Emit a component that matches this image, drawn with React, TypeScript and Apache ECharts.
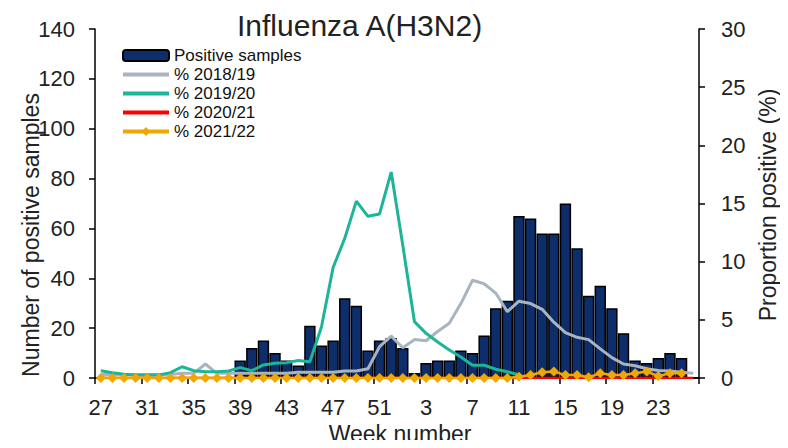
import React, { useEffect, useRef } from "react";
import * as echarts from "echarts";

const weeks = [
  "27", "28", "29", "30", "31", "32", "33", "34", "35", "36", "37", "38", "39",
  "40", "41", "42", "43", "44", "45", "46", "47", "48", "49", "50", "51", "52",
  "1", "2", "3", "4", "5", "6", "7", "8", "9", "10", "11", "12", "13",
  "14", "15", "16", "17", "18", "19", "20", "21", "22", "23", "24", "25", "26",
];

const positiveSamples = [
  0, 0, 0, 0, 0, 0, 0, 0, 0, 0, 0, 0, 7,
  12, 15, 10, 7, 5, 21, 13, 15, 32, 29, 11, 15, 16,
  12, 2, 6, 7, 7, 11, 10, 17, 28, 31, 65, 64, 58,
  58, 70, 52, 33, 37, 28, 18, 7, 6, 8, 10, 8, 0,
];

const pct201819 = [
  0.3, 0.3, 0.3, 0.3, 0.3, 0.3, 0.3, 0.4, 0.4, 1.2, 0.4, 0.4, 0.4,
  0.4, 0.4, 0.4, 0.4, 0.5, 0.5, 0.5, 0.5, 0.6, 0.6, 0.8, 2.7, 3.6,
  2.6, 3.3, 3.2, 4.0, 4.7, 6.4, 8.4, 8.1, 7.3, 5.7, 6.6, 6.4, 5.9,
  4.8, 3.9, 3.5, 3.3, 2.5, 1.75, 1.2, 1.05, 0.8, 0.65, 0.6, 0.5, 0.4,
];

const pct201920 = [
  0.63, 0.46, 0.32, 0.26, 0.26, 0.26, 0.46, 0.97, 0.63, 0.54, 0.54, 0.6, 0.89,
  0.63, 1.12, 1.26, 1.32, 1.5, 1.4, 4.4, 9.5, 12.0, 15.2, 13.9, 14.1, 17.7,
  11.4, 4.85, 3.84, 3.1, 2.4, 1.8, 1.1, 1.1, 0.75, 0.54, 0.26, null, null,
  null, null, null, null, null, null, null, null, null, null, null, null, null,
];

const pct202021 = [
  0, 0, 0, 0, 0, 0, 0, 0, 0, 0, 0, 0, 0,
  0, 0, 0, 0, 0, 0, 0, 0, 0, 0, 0, 0, 0,
  0, 0, 0, 0, 0, 0, 0, 0, 0, 0, 0, 0, 0,
  0, 0, 0, 0, 0, 0, 0, 0, 0, 0, 0, 0, 0,
];

const pct202122 = [
  0, 0, 0, 0, 0, 0, 0, 0, 0, 0, 0, 0, 0,
  0, 0, 0, 0, 0, 0, 0, 0, 0, 0, 0, 0, 0,
  0, 0, 0, 0, 0, 0, 0, 0, 0, 0, 0.1, 0.26, 0.5,
  0.55, 0.26, 0.26, 0.06, 0.4, 0.26, 0.26, 0.4, 0.55, 0.17, 0.4, 0.4, null,
];

const leftTicks = { min: 0, max: 140, interval: 20 };
const rightTicks = { min: 0, max: 30, interval: 5 };

const FONT = "'Liberation Sans', Arial, sans-serif";

const hiddenSymbol = { color: "rgba(0,0,0,0)", borderWidth: 0, opacity: 0 };

export default function App() {
  const ref = useRef<HTMLDivElement>(null);

  useEffect(() => {
    if (!ref.current) return;
    const chart = echarts.init(ref.current, undefined, { renderer: "svg" });
    const axisLine = { show: true, lineStyle: { color: "#000", width: 1.5 } };
    const axisTick = { show: true, length: 6, inside: false, lineStyle: { color: "#000", width: 1.5 } };
    chart.setOption({
      animation: false,
      backgroundColor: "#fff",
      textStyle: { fontFamily: FONT },
      title: {
        text: "Influenza A(H3N2)",
        left: 232,
        top: 5,
        textStyle: { fontSize: 30, fontWeight: "normal", color: "#222", fontFamily: FONT },
      },
      legend: {
        orient: "vertical",
        left: 121,
        top: 47,
        padding: 0,
        itemWidth: 46,
        itemHeight: 11,
        itemGap: 2,
        textStyle: { fontSize: 17, color: "#111", fontFamily: FONT },
        data: [
          { name: "Positive samples" },
          { name: "% 2018/19", itemStyle: hiddenSymbol, lineStyle: { width: 4 } },
          { name: "% 2019/20", itemStyle: hiddenSymbol, lineStyle: { width: 4 } },
          { name: "% 2020/21", itemStyle: hiddenSymbol, lineStyle: { width: 4 } },
          { name: "% 2021/22", lineStyle: { width: 4 } },
        ],
      },
      grid: { left: 95, right: 89, top: 29, bottom: 70, containLabel: false },
      xAxis: {
        type: "category",
        data: weeks,
        boundaryGap: true,
        axisLine,
        axisTick: { ...axisTick, interval: 3 },
        axisLabel: { interval: 3, fontSize: 22, color: "#222", margin: 18, fontFamily: FONT },
        splitLine: { show: false },
      },
      yAxis: [
        {
          type: "value",
          position: "left",
          ...leftTicks,
          axisLine,
          axisTick,
          axisLabel: { fontSize: 22, color: "#222", margin: 20, fontFamily: FONT },
          splitLine: { show: false },
        },
        {
          type: "value",
          position: "right",
          ...rightTicks,
          axisLine,
          axisTick,
          axisLabel: { fontSize: 22, color: "#222", margin: 22, fontFamily: FONT },
          splitLine: { show: false },
        },
      ],
      graphic: [
        {
          type: "text",
          x: 31,
          y: 235,
          rotation: Math.PI / 2,
          style: {
            text: "Number of positive samples",
            fontSize: 23,
            fontFamily: FONT,
            fill: "#222",
            textAlign: "center",
            textVerticalAlign: "middle",
            align: "center",
            verticalAlign: "middle",
          },
        },
        {
          type: "text",
          x: 768,
          y: 205,
          rotation: Math.PI / 2,
          style: {
            text: "Proportion positive (%)",
            fontSize: 23,
            fontFamily: FONT,
            fill: "#222",
            textAlign: "center",
            textVerticalAlign: "middle",
            align: "center",
            verticalAlign: "middle",
          },
        },
        {
          type: "text",
          x: 400,
          y: 434,
          style: {
            text: "Week number",
            fontSize: 23,
            fontFamily: FONT,
            fill: "#222",
            textAlign: "center",
            textVerticalAlign: "middle",
            align: "center",
            verticalAlign: "middle",
          },
        },
      ],
      series: [
        {
          name: "Positive samples",
          type: "bar",
          yAxisIndex: 0,
          data: positiveSamples,
          barCategoryGap: "2%",
          itemStyle: { color: "#0e2d6b", borderColor: "#000", borderWidth: 1.5 },
        },
        {
          name: "% 2018/19",
          type: "line",
          yAxisIndex: 1,
          data: pct201819,
          symbol: "none",
          lineStyle: { color: "#a9b4c1", width: 3 },
          itemStyle: { color: "#a9b4c1" },
        },
        {
          name: "% 2019/20",
          type: "line",
          yAxisIndex: 1,
          data: pct201920,
          symbol: "none",
          lineStyle: { color: "#1db597", width: 3 },
          itemStyle: { color: "#1db597" },
        },
        {
          name: "% 2020/21",
          type: "line",
          yAxisIndex: 1,
          data: pct202021,
          symbol: "none",
          lineStyle: { color: "#ff0000", width: 2.5 },
          itemStyle: { color: "#ff0000" },
        },
        {
          name: "% 2021/22",
          type: "line",
          yAxisIndex: 1,
          data: pct202122,
          symbol: "diamond",
          symbolSize: 10,
          showAllSymbol: true,
          lineStyle: { color: "#f0a800", width: 2.5 },
          itemStyle: { color: "#f0a800" },
        },
      ],
    });
    return () => chart.dispose();
  }, []);

  return <div ref={ref} style={{ width: 788, height: 448, margin: -8 }} />;
}
